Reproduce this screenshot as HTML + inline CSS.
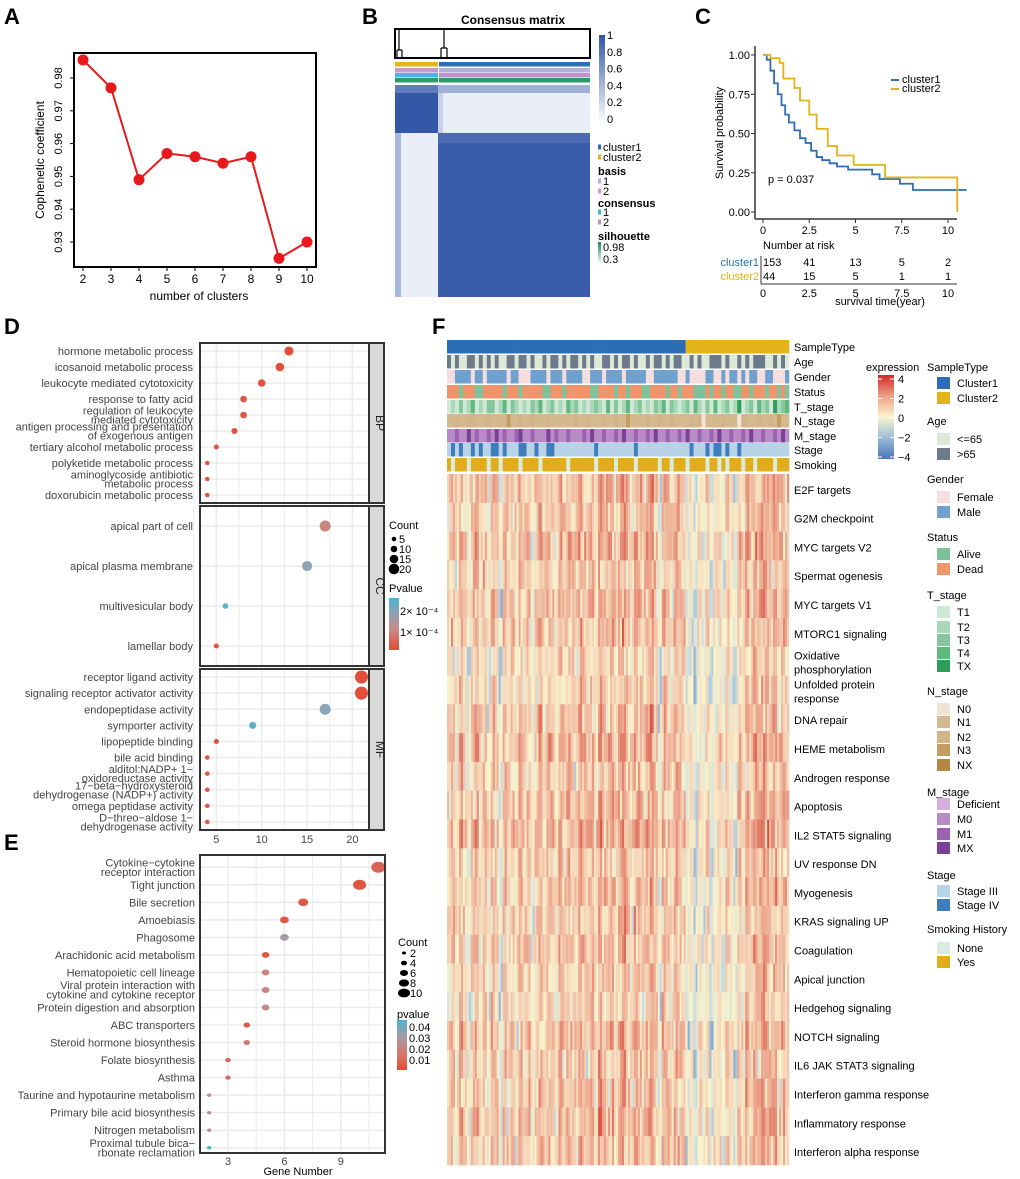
<!DOCTYPE html>
<html><head><meta charset="utf-8">
<style>
html,body{margin:0;padding:0;background:#fff;}
svg{display:block;font-family:"Liberation Sans",Arial,sans-serif;}
.nar{font-family:"Liberation Sans Narrow","Liberation Sans",sans-serif;}
</style></head>
<body>
<svg id="fig" width="1020" height="1179" viewBox="0 0 1020 1179" xmlns="http://www.w3.org/2000/svg">
<rect width="1020" height="1179" fill="#fff"/>
<g font-weight="bold" font-size="22" fill="#000">
<text x="4" y="24">A</text>
<text x="362" y="24">B</text>
<text x="695" y="24">C</text>
<text x="4" y="334">D</text>
<text x="4" y="850">E</text>
<text x="432" y="334">F</text>
</g>
<g id="pA"></g>
<g id="pB"></g>
<g id="pC"></g>
<g id="pD"></g>
<g id="pE"></g>
<g id="pF"></g>
</svg>
<script>
// ===== data =====
const aClusters=[2,3,4,5,6,7,8,9,10];
const aCoph=[0.9855,0.977,0.949,0.957,0.956,0.954,0.956,0.925,0.930];
const aYTicks=[0.93,0.94,0.95,0.96,0.97,0.98];

const c1Time=[0,0.2,0.4,0.6,0.8,1.0,1.2,1.4,1.7,2.0,2.3,2.6,2.9,3.2,3.6,4.0,4.6,5.9,6.3,7.4,8.1,11];
const c1Surv=[1,0.97,0.9,0.82,0.75,0.68,0.62,0.57,0.52,0.47,0.44,0.39,0.35,0.33,0.31,0.29,0.27,0.24,0.21,0.18,0.14,0.14];
const c2Time=[0,0.4,0.9,1.1,1.7,2.0,2.5,2.9,3.5,4.0,4.9,6.6,10.5];
const c2Surv=[1,0.98,0.95,0.85,0.79,0.71,0.62,0.53,0.42,0.36,0.30,0.22,0];
const kmXTicks=[0,2.5,5,7.5,10];
const kmYTicks=[0,0.25,0.5,0.75,1];
const riskC1=[153,41,13,5,2];
const riskC2=[44,15,5,1,1];

const dBPLabels=[["hormone metabolic process"],["icosanoid metabolic process"],["leukocyte mediated cytotoxicity"],["response to fatty acid"],["regulation of leukocyte","mediated cytotoxicity"],["antigen processing and presentation","of exogenous antigen"],["tertiary alcohol metabolic process"],["polyketide metabolic process"],["aminoglycoside antibiotic","metabolic process"],["doxorubicin metabolic process"]];
const dBPCount=[13,12,10,8,8,7,5,4,4,4];
const dBPP=[0.00001,0.00001,0.00002,0.00002,0.00002,0.00002,0.00002,0.00002,0.00002,0.00002];
const dCCLabels=[["apical part of cell"],["apical plasma membrane"],["multivesicular body"],["lamellar body"]];
const dCCCount=[17,15,6,5];
const dCCP=[0.00012,0.0002,0.00027,0.00002];
const dMFLabels=[["receptor ligand activity"],["signaling receptor activator activity"],["endopeptidase activity"],["symporter activity"],["lipopeptide binding"],["bile acid binding"],["alditol:NADP+ 1−","oxidoreductase activity"],["17−beta−hydroxysteroid","dehydrogenase (NADP+) activity"],["omega peptidase activity"],["D−threo−aldose 1−","dehydrogenase activity"]];
const dMFCount=[21,21,17,9,5,4,4,4,4,4];
const dMFP=[0.00001,0.00001,0.0002,0.00026,0.00002,0.00002,0.00002,0.00002,0.00002,0.00003];
const dXTicks=[5,10,15,20];

const eLabels=[["Cytokine−cytokine","receptor interaction"],["Tight junction"],["Bile secretion"],["Amoebiasis"],["Phagosome"],["Arachidonic acid metabolism"],["Hematopoietic cell lineage"],["Viral protein interaction with","cytokine and cytokine receptor"],["Protein digestion and absorption"],["ABC transporters"],["Steroid hormone biosynthesis"],["Folate biosynthesis"],["Asthma"],["Taurine and hypotaurine metabolism"],["Primary bile acid biosynthesis"],["Nitrogen metabolism"],["Proximal tubule bica−","rbonate reclamation"]];
const eCount=[11,10,7,6,6,5,5,5,5,4,4,3,3,2,2,2,2];
const eP=[0.008,0.004,0.004,0.004,0.028,0.005,0.018,0.018,0.02,0.005,0.016,0.008,0.012,0.022,0.022,0.022,0.045];
const eXTicks=[3,6,9];

const fRowLabels=[["E2F targets"],["G2M checkpoint"],["MYC targets V2"],["Spermat ogenesis"],["MYC targets V1"],["MTORC1 signaling"],["Oxidative","phosphorylation"],["Unfolded protein","response"],["DNA repair"],["HEME metabolism"],["Androgen response"],["Apoptosis"],["IL2 STAT5 signaling"],["UV response DN"],["Myogenesis"],["KRAS signaling UP"],["Coagulation"],["Apical junction"],["Hedgehog signaling"],["NOTCH signaling"],["IL6 JAK STAT3 signaling"],["Interferon gamma response"],["Inflammatory response"],["Interferon alpha response"]];
const fColLevel=[0.5,1.2,0.2,1.5,0.8,-0.3,1.0,1.6,0.4,1.1,0.0,1.3,0.9,-0.8,1.4,0.6,1.0,0.3,1.5,0.7,
1.2,-0.2,0.9,1.6,0.5,1.3,1.0,0.2,1.7,0.8,1.4,1.1,0.6,1.8,1.2,0.9,1.5,0.4,1.9,1.3,
1.0,1.6,0.7,1.4,2.0,1.1,0.5,1.7,1.3,0.8,1.5,1.9,1.0,-0.5,1.4,1.1,0.6,1.6,1.2,0.9,
-0.5,0.2,-1.2,0.4,-0.3,0.8,-1.0,0.1,0.6,-0.4,1.0,0.3,-0.8,1.2,0.5,1.5,0.9,1.7,1.3,2.0,1.6,1.1,1.8,0.7,1.4,1.0];
const fRowLevel=[0.2,0.1,0.3,0,0.2,0.1,-0.3,-0.2,0.1,0.3,0,0.2,0.4,0,0.1,0,0.1,-0.1,-0.2,0.2,0,0.1,0.2,0.1];
const annNames=["SampleType","Age","Gender","Status","T_stage","N_stage","M_stage","Stage","Smoking"];
const annCodes=[
"00000000000000000000000000000000000000000000000000000000000011111111111111111111111111",
"10100110101010011011010010110101101010011010110100101101011001010011101001010111001010",
"00111101101111101100011110111011110011101111011111001111110010000110010110101100110001",
"11101110011111011101111100111011111100111101101110011110110111000101101100110111011010",
"01020130102201302101021301201031201012103020130120102130210120310203012014012031204123",
"11211221112111131121121112111111211211121121131111211211211112120111121110211121121311",
"11211312112131211231121113121121112131121121311211213112112131121121311211213112112131",
"01010010100110100011001001100000000001000000000100000000000001000101101001000000000000",
"10111011110110111101111011111101111110111101111011111011011101111011010111011011110111"];
const annPalettes=[["#2c6db5","#e3b31a"],["#dde9d7","#6c7a8c"],["#f6dede","#6fa1cf"],["#7cc39c","#f0956b"],["#cfe8d5","#a9d8b6","#84c79a","#5db97d","#2f9e5a"],["#f1e3d6","#d5b98e","#d3b488","#c49d62","#b48743"],["#d5aedb","#b98bc6","#9c62b1","#7b3f98"],["#b8d3e8","#3d7fbd"],["#d9ece0","#e2ac1c"]];

// ===== helpers =====
const NS="http://www.w3.org/2000/svg";
function mk(parent,tag,attrs,txt){const e=document.createElementNS(NS,tag);for(const k in attrs)e.setAttribute(k,attrs[k]);if(txt!==undefined)e.textContent=txt;parent.appendChild(e);return e;}
function lerp(a,b,t){return a+(b-a)*t;}
function hex(c){return [parseInt(c.slice(1,3),16),parseInt(c.slice(3,5),16),parseInt(c.slice(5,7),16)];}
function ramp(stops,v){
 if(v<=stops[0][0])return stops[0][1];
 for(let i=1;i<stops.length;i++){if(v<=stops[i][0]){const t=(v-stops[i-1][0])/(stops[i][0]-stops[i-1][0]);const a=hex(stops[i-1][1]),b=hex(stops[i][1]);return `rgb(${Math.round(lerp(a[0],b[0],t))},${Math.round(lerp(a[1],b[1],t))},${Math.round(lerp(a[2],b[2],t))})`;}}
 return stops[stops.length-1][1];}
function mlText(g,x,y,lines,attrs,lh){lh=lh||9;const n=lines.length;const t=mk(g,'text',Object.assign({x:x,y:y},attrs));lines.forEach((l,k)=>{mk(t,'tspan',{x:x,y:y-(n-1)*lh/2+k*lh+4},l);});return t;}

// ===== Panel A =====
(function(){
 const g=document.getElementById('pA');
 const L=74,R=316,T=53,B=267;
 const xs=v=>83+(v-2)*(307-83)/8;
 const ys=v=>78+(0.98-v)*(242-78)/0.05;
 const fr=mk(g,'rect',{x:L,y:T,width:R-L,height:B-T,fill:'none',stroke:'#000','stroke-width':2});
 
 aYTicks.forEach(v=>{mk(g,'line',{x1:L-4,x2:L,y1:ys(v),y2:ys(v),stroke:'#000'});
  const t=mk(g,'text',{x:62,y:ys(v),'font-size':11,'text-anchor':'middle',transform:`rotate(-90 62 ${ys(v)})`},v.toFixed(2));
  });
 aClusters.forEach(v=>{mk(g,'line',{x1:xs(v),x2:xs(v),y1:B,y2:B+4,stroke:'#000'});
  const t=mk(g,'text',{x:xs(v),y:B+16,'font-size':12,'text-anchor':'middle',class:'nar'},v);
  });
 const yt=mk(g,'text',{x:44,y:160,'font-size':12,'text-anchor':'middle',transform:'rotate(-90 44 160)'},'Cophenetic coefficient');
 
 const xt=mk(g,'text',{x:199,y:300,'font-size':12,'text-anchor':'middle',class:'nar'},'number of clusters');
 
 const pts=aClusters.map((c,i)=>xs(c)+','+ys(aCoph[i])).join(' ');
 const pl=mk(g,'polyline',{points:pts,fill:'none',stroke:'#e8191c','stroke-width':2});
 
 aClusters.forEach((c,i)=>{const p=mk(g,'circle',{cx:xs(c),cy:ys(aCoph[i]),r:5.5,fill:'#e8191c'});
  });
})();

// ===== Panel B =====
(function(){
 const g=document.getElementById('pB');
 const t=mk(g,'text',{x:513,y:24,'font-size':12,'font-weight':'bold','text-anchor':'middle',class:'nar'},'Consensus matrix');
 
 const d=mk(g,'g',{});
 mk(d,'rect',{x:395,y:29,width:195,height:29,fill:'none',stroke:'#000','stroke-width':2});
 mk(d,'path',{d:'M399,29V50M397,50H402M397,50V58M402,50V58M444,29V48M441,48H447M441,48V58M447,48V58',stroke:'#000',fill:'none','stroke-width':1.2});
 const ann=[[62,'#e3b31a','#2c6db5'],[68,'#c89acb','#b3b1dc'],[73,'#4bb3e0','#c090c8'],[78,'#2e9b6a','#2e9b6a']];
 ann.forEach((a,i)=>{const r1=mk(g,'rect',{x:395,y:a[0],width:43,height:4.5,fill:a[1]});const r2=mk(g,'rect',{x:439,y:a[0],width:151,height:4.5,fill:a[2]});
  
  });
 const hm=mk(g,'g',{});
 mk(hm,'rect',{x:395,y:85,width:195,height:212,fill:'#e9eef8'});
 mk(hm,'rect',{x:438,y:133,width:152,height:164,fill:'#3a5ca9'});
 mk(hm,'rect',{x:395,y:93,width:43,height:40,fill:'#3457a7'});
 mk(hm,'rect',{x:395,y:85,width:195,height:8,fill:'#9fb1d8'});
 mk(hm,'rect',{x:395,y:85,width:43,height:8,fill:'#5f7cbc'});
 mk(hm,'rect',{x:395,y:133,width:6,height:164,fill:'#a9b9dd'});
 mk(hm,'rect',{x:438,y:133,width:152,height:10,fill:'#4a6bb2'});
 mk(hm,'rect',{x:438,y:93,width:5,height:40,fill:'#c7d2ea'});
 const cb=mk(g,'g',{});
 const lg=mk(g,'defs',{});const gr=mk(lg,'linearGradient',{id:'gB',x1:0,y1:1,x2:0,y2:0});
 mk(gr,'stop',{offset:0,'stop-color':'#ffffff'});mk(gr,'stop',{offset:1,'stop-color':'#2d56a8'});
 mk(cb,'rect',{x:599,y:35,width:6,height:88,fill:'url(#gB)'});
 [1,0.8,0.6,0.4,0.2,0].forEach((v,i)=>mk(cb,'text',{x:607,y:39+(1-v)*84,'font-size':11,class:'nar'},v===1?'1':v===0?'0':v.toFixed(1)));
 const L=mk(g,'g',{'font-size':11,class:'nar'});
 const items=[['sw',147,'#2c6db5','cluster1'],['sw',157,'#e3b31a','cluster2'],['h',171,'','basis'],['sw',181,'#b3b1dc','1'],['sw',191,'#c89acb','2'],['h',203,'','consensus'],['sw',212,'#4bb3e0','1'],['sw',222,'#c090c8','2'],['h',236,'','silhouette']];
 items.forEach(it=>{if(it[0]==='h')mk(L,'text',{x:598,y:it[1]+4,'font-weight':'bold'},it[3]);else{mk(L,'rect',{x:598,y:it[1]-2.5,width:3,height:5,fill:it[2]});mk(L,'text',{x:603,y:it[1]+4},it[3]);}});
 const gr2=mk(lg,'linearGradient',{id:'gS',x1:0,y1:0,x2:0,y2:1});mk(gr2,'stop',{offset:0,'stop-color':'#1f8a5a'});mk(gr2,'stop',{offset:1,'stop-color':'#e6f2ec'});
 mk(L,'rect',{x:598,y:242,width:3,height:20,fill:'url(#gS)'});
 mk(L,'text',{x:603,y:251},'0.98');mk(L,'text',{x:603,y:263},'0.3');
})();

// ===== Panel C =====
(function(){
 const g=document.getElementById('pC');
 const xs=v=>763+v*18.5, ys=v=>212-v*157;
 mk(g,'line',{x1:755,y1:46,x2:755,y2:219,stroke:'#333','stroke-width':1.5});
 mk(g,'line',{x1:755,y1:219,x2:957,y2:219,stroke:'#333','stroke-width':1.5});
 kmYTicks.forEach(v=>{mk(g,'line',{x1:751,x2:755,y1:ys(v),y2:ys(v),stroke:'#333'});
  const t=mk(g,'text',{x:750,y:ys(v)+4,'font-size':11,'text-anchor':'end',class:'nar'},v.toFixed(2));
  });
 kmXTicks.forEach(v=>{mk(g,'line',{x1:xs(v),x2:xs(v),y1:219,y2:223,stroke:'#333'});
  const t=mk(g,'text',{x:xs(v),y:234,'font-size':11,'text-anchor':'middle',class:'nar'},v);
  });
 const yt=mk(g,'text',{x:723,y:133,'font-size':11,'text-anchor':'middle',transform:'rotate(-90 723 133)'},'Survival probability');
 
 function step(T,S){let d=`M${xs(T[0])},${ys(S[0])}`;for(let i=1;i<T.length;i++){d+=`H${xs(T[i])}V${ys(S[i])}`;}return d;}
 const l1=mk(g,'path',{d:step(c1Time,c1Surv),fill:'none',stroke:'#2c6db5','stroke-width':1.8});
 
 const l2=mk(g,'path',{d:step(c2Time,c2Surv),fill:'none',stroke:'#e3b31a','stroke-width':1.8});
 
 const p=mk(g,'text',{x:768,y:183,'font-size':11},'p = 0.037');
 const lg=mk(g,'g',{'font-size':11,class:'nar'});
 mk(lg,'line',{x1:891,x2:899,y1:80,y2:80,stroke:'#2c6db5','stroke-width':2});mk(lg,'text',{x:902,y:83},'cluster1');
 mk(lg,'line',{x1:891,x2:899,y1:89,y2:89,stroke:'#e3b31a','stroke-width':2});mk(lg,'text',{x:902,y:92},'cluster2');
 const rt=mk(g,'g',{'font-size':11,class:'nar'});
 mk(rt,'text',{x:763,y:249},'Number at risk');
 mk(rt,'text',{x:759,y:266,'text-anchor':'end',fill:'#2c6db5'},'cluster1');
 mk(rt,'text',{x:759,y:280,'text-anchor':'end',fill:'#e3b31a'},'cluster2');
 mk(rt,'line',{x1:761,y1:256,x2:761,y2:284,stroke:'#333'});
 kmXTicks.forEach((v,i)=>{
  const a=i===0?{x:763,'text-anchor':'start'}:{x:xs(v),'text-anchor':'middle'};
  mk(rt,'text',Object.assign({y:266},a),riskC1[i]);mk(rt,'text',Object.assign({y:280},a),riskC2[i]);
  mk(rt,'text',{x:xs(v),y:297,'text-anchor':'middle'},v);});
 mk(rt,'line',{x1:761,y1:284,x2:957,y2:284,stroke:'#333'});
 mk(rt,'text',{x:880,y:305,'text-anchor':'middle'},'survival time(year)');
})();

// ===== Panel D =====
const pStops=[[0,'#e34a33'],[0.45,'#c98a86'],[0.7,'#8fa3b3'],[1,'#4eb3d3']];
(function(){
 const g=document.getElementById('pD');
 const xs=v=>171+v*9.07;
 const pmax=0.00028;
 const panels=[[343,503,'BP',dBPLabels,dBPCount,dBPP],[506,666,'CC',dCCLabels,dCCCount,dCCP],[669,830,'MF',dMFLabels,dMFCount,dMFP]];
 panels.forEach(P=>{
  const [T,B,name,labs,cnt,pv]=P;
  const pg=mk(g,'g',{});
  [2.5,5,7.5,10,12.5,15,17.5,20,22.5].forEach(v=>{if(xs(v)<369)mk(pg,'line',{x1:xs(v),x2:xs(v),y1:T,y2:B,stroke:'#ebebeb','stroke-width':v%5===0?1.5:1});});
  const n=labs.length;const step=(B-T)/n;
  labs.forEach((l,i)=>{const y=T+step*(i+0.5);mk(pg,'line',{x1:200,x2:369,y1:y,y2:y,stroke:'#ebebeb','stroke-width':1.5});
   const t=mlText(pg,193,y,l,{'font-size':11,'text-anchor':'end',fill:'#444'},9);
   
   const c=mk(pg,'circle',{cx:xs(cnt[i]),cy:y,r:1.3+cnt[i]*0.25,fill:ramp(pStops,pv[i]/pmax)});
   });
  mk(pg,'rect',{x:200,y:T,width:169,height:B-T,fill:'none',stroke:'#333','stroke-width':2});
  mk(pg,'rect',{x:369,y:T,width:15,height:B-T,fill:'#d9d9d9',stroke:'#333','stroke-width':2});
  mk(pg,'text',{x:376,y:(T+B)/2,'font-size':12,'text-anchor':'middle',transform:`rotate(90 376 ${(T+B)/2})`,fill:'#222'},name);
 });
 dXTicks.forEach(v=>{const t=mk(g,'text',{x:xs(v),y:843,'font-size':11,'text-anchor':'middle',fill:'#444'},v);});
 const lg=mk(g,'g',{'font-size':11});
 mk(lg,'text',{x:389,y:529},'Count');
 [5,10,15,20].forEach((v,i)=>{mk(lg,'circle',{cx:394,cy:539+i*10,r:1.3+v*0.2,fill:'#000'});mk(lg,'text',{x:399,y:543+i*10},v);});
 mk(lg,'text',{x:389,y:592},'Pvalue');
 const df=mk(g,'defs',{});const gr=mk(df,'linearGradient',{id:'gD',x1:0,y1:0,x2:0,y2:1});
 mk(gr,'stop',{offset:0,'stop-color':'#4eb3d3'});mk(gr,'stop',{offset:0.3,'stop-color':'#8fa3b3'});mk(gr,'stop',{offset:0.6,'stop-color':'#c98a86'});mk(gr,'stop',{offset:1,'stop-color':'#e34a33'});
 mk(lg,'rect',{x:389,y:598,width:10,height:52,fill:'url(#gD)'});
 mk(lg,'text',{x:400,y:615},'2× 10⁻⁴');mk(lg,'text',{x:400,y:636},'1× 10⁻⁴');
})();

// ===== Panel E =====
(function(){
 const g=document.getElementById('pE');
 const xs=v=>171.6+v*18.8;
 const T=855,B=1153;
 [1.5,3,4.5,6,7.5,9,10.5].forEach(v=>mk(g,'line',{x1:xs(v),x2:xs(v),y1:T,y2:B,stroke:'#ebebeb','stroke-width':v%3===0?1.5:1}));
 const step=(B-T)/eLabels.length;
 eLabels.forEach((l,i)=>{const y=T+step*(i+0.7);mk(g,'line',{x1:200,x2:385,y1:y,y2:y,stroke:'#ebebeb','stroke-width':1.5});
  const t=mlText(g,195,y,l,{'font-size':11,'text-anchor':'end',fill:'#444'},9.5);
  
  const r=1+eCount[i]*0.5;
  const c=mk(g,'ellipse',{cx:xs(eCount[i]),cy:y,rx:r*1.1,ry:r*0.85,fill:ramp(pStops,eP[i]/0.045)});
  });
 mk(g,'rect',{x:200,y:T,width:185,height:B-T,fill:'none',stroke:'#333','stroke-width':2});
 eXTicks.forEach(v=>{const t=mk(g,'text',{x:xs(v),y:1165,'font-size':11,'text-anchor':'middle',fill:'#444'},v);});
 const xt=mk(g,'text',{x:298,y:1175,'font-size':11,'text-anchor':'middle'},'Gene Number');
 const lg=mk(g,'g',{'font-size':11});
 mk(lg,'text',{x:398,y:946},'Count');
 [2,4,6,8,10].forEach((v,i)=>{mk(lg,'ellipse',{cx:404,cy:953+i*10,rx:(1+v*0.45)*1.1,ry:(1+v*0.45)*0.8,fill:'#000'});mk(lg,'text',{x:410,y:957+i*10},v);});
 mk(lg,'text',{x:397,y:1018},'pvalue');
 const df=mk(g,'defs',{});const gr=mk(df,'linearGradient',{id:'gE',x1:0,y1:0,x2:0,y2:1});
 mk(gr,'stop',{offset:0,'stop-color':'#4eb3d3'});mk(gr,'stop',{offset:0.35,'stop-color':'#a99aa0'});mk(gr,'stop',{offset:0.7,'stop-color':'#d67565'});mk(gr,'stop',{offset:1,'stop-color':'#e34a33'});
 mk(lg,'rect',{x:397,y:1020,width:10,height:50,fill:'url(#gE)'});
 ['0.04','0.03','0.02','0.01'].forEach((s,i)=>mk(lg,'text',{x:409,y:1031+i*11},s));
})();

// ===== Panel F =====
(function(){
 const g=document.getElementById('pF');
 const X0=447,X1=789,nC=fColLevel.length,cw=(X1-X0)/nC;
 const annY=[340,355,370,385,400,414,429,443,458],annH=13.5;
 annNames.forEach((nm,a)=>{
  const ag=mk(g,'g',{});
  for(let j=0;j<nC;j++){const code=parseInt(annCodes[a][j]||'0');mk(ag,'rect',{x:X0+j*cw,y:annY[a],width:cw+0.3,height:annH,fill:annPalettes[a][code]||annPalettes[a][0]});}
  mk(ag,'text',{x:794,y:annY[a]+11,'font-size':11},nm);
 });
 const hStops=[[-3,'#4a74b4'],[-1.5,'#9bbcd9'],[-0.6,'#d6e3de'],[0.1,'#f8f4cd'],[0.9,'#f5d5b8'],[1.8,'#eba28a'],[3,'#d4463a'],[4,'#c62828']];
 const HY0=474,HY1=1165,rh=(HY1-HY0)/fRowLabels.length;
 const nF=nC*2,fw=(X1-X0)/nF;
 const hm=mk(g,'g',{});
 fRowLabels.forEach((l,i)=>{
  for(let j=0;j<nF;j++){
   const base=fColLevel[j>>1];
   const v=0.3+0.8*base+fRowLevel[i]+0.6*(fColLevel[(j*7+i*13)%nC]-1)+0.4*(fColLevel[(j*11+i*5+3)%nC]-1);
   mk(hm,'rect',{x:X0+j*fw,y:HY0+i*rh,width:fw+0.3,height:rh+0.3,fill:ramp(hStops,v)});
  }
  const t=mlText(g,794,HY0+rh*(i+0.55),l,{'font-size':11},14);
  
 });
 const lg=mk(g,'g',{'font-size':11});
 mk(lg,'text',{x:866,y:371},'expression');
 const df=mk(g,'defs',{});const gr=mk(df,'linearGradient',{id:'gF',x1:0,y1:0,x2:0,y2:1});
 [['0','#cf2a2a'],['0.25','#ee9f86'],['0.5','#f8f4cd'],['0.75','#9bbcd9'],['1','#4a74b4']].forEach(s=>mk(gr,'stop',{offset:s[0],'stop-color':s[1]}));
 mk(lg,'rect',{x:878,y:375,width:16,height:84,fill:'url(#gF)'});
 ['4','2','0','−2','−4'].forEach((s,i)=>{const y=379+i*19.5;mk(lg,'line',{x1:878,x2:882,y1:y,y2:y,stroke:'#fff'});mk(lg,'line',{x1:890,x2:894,y1:y,y2:y,stroke:'#fff'});mk(lg,'text',{x:898,y:y+4},s);});
 const leg=[['h',367,'SampleType'],['s',383,'#2c6db5','Cluster1'],['s',398,'#e3b31a','Cluster2'],['h',421,'Age'],['s',439,'#dde9d7','<=65'],['s',454,'#6c7a8c','>65'],
 ['h',479,'Gender'],['s',497,'#f6dede','Female'],['s',512,'#6fa1cf','Male'],['h',537,'Status'],['s',554,'#7cc39c','Alive'],['s',569,'#f0956b','Dead'],
 ['h',595,'T_stage'],['s',612,'#cfe8d5','T1'],['s',627,'#a9d8b6','T2'],['s',640,'#84c79a','T3'],['s',653,'#5db97d','T4'],['s',666,'#2f9e5a','TX'],
 ['h',691,'N_stage'],['s',709,'#f1e3d6','N0'],['s',722,'#d5b98e','N1'],['s',737,'#d3b488','N2'],['s',750,'#c49d62','N3'],['s',765,'#b48743','NX'],
 ['h',792,'M_stage'],['s',804,'#d5aedb','Deficient'],['s',819,'#b98bc6','M0'],['s',834,'#9c62b1','M1'],['s',848,'#7b3f98','MX'],
 ['h',875,'Stage'],['s',891,'#b8d3e8','Stage III'],['s',905,'#3d7fbd','Stage IV'],['h',929,'Smoking History'],['s',948,'#d9ece0','None'],['s',962,'#e2ac1c','Yes']];
 leg.forEach(it=>{if(it[0]==='h')mk(lg,'text',{x:927,y:it[1]+4},it[2]);else{mk(lg,'rect',{x:937,y:it[1]-6,width:13,height:12,fill:it[2]});mk(lg,'text',{x:957,y:it[1]+4},it[3]);}});
})();
</script>
</body></html>
